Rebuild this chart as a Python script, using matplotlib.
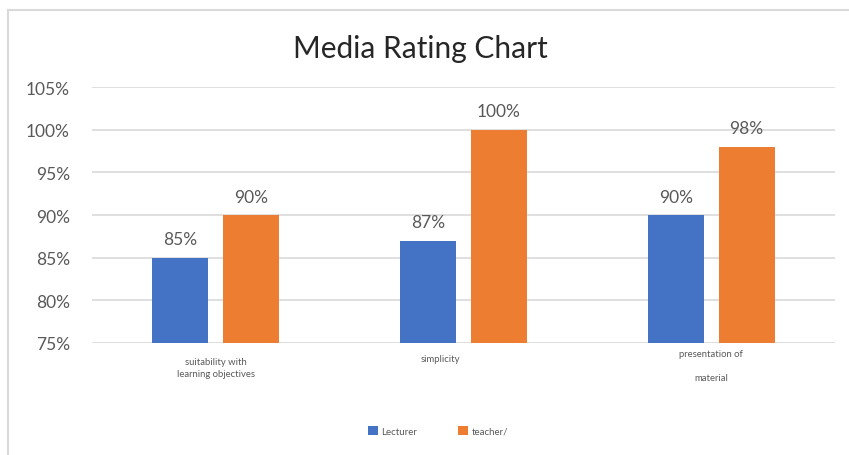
import matplotlib
matplotlib.use("Agg")
import matplotlib.pyplot as plt
import matplotlib.transforms as mtransforms
from matplotlib.lines import Line2D
import numpy as np

plt.rcParams['font.family'] = ['Lato', 'DejaVu Sans']

categories = ["suitability with\nlearning objectives", "simplicity", "presentation of\nmaterial"]
lecturer = [85, 87, 90]
teacher = [90, 100, 98]
series_names = ["Lecturer", "teacher/"]
yticks = [75, 80, 85, 90, 95, 100, 105]

BLUE = "#4472C4"
ORANGE = "#ED7D31"
GRID = "#D9D9D9"
TEXT = "#595959"

fig = plt.figure(figsize=(8.49, 4.56), dpi=100)
W, H = 849, 456
ax = fig.add_axes([92 / W, 1 - 344 / H, (835 - 92) / W, (344 - 88) / H])

x = np.arange(len(categories))
width = 0.226
offset = 0.143
b1 = ax.bar(x - offset, lecturer, width, color=BLUE, label=series_names[0], zorder=3)
b2 = ax.bar(x + offset, teacher, width, color=ORANGE, label=series_names[1], zorder=3)

for bars, vals in ((b1, lecturer), (b2, teacher)):
    for rect, v in zip(bars, vals):
        ax.annotate(f"{v}%", (rect.get_x() + rect.get_width() / 2, v),
                    xytext=(0, 7.5), textcoords="offset points",
                    ha="center", va="bottom", fontsize=12.5, color=TEXT)

ax.set_xlim(-0.5, len(categories) - 0.5)
ax.set_ylim(75, 105)
ax.set_yticks(yticks)
ax.set_yticklabels([f"{t}%" for t in yticks], fontsize=12.5, color=TEXT)
ax.yaxis.grid(True, color=GRID, linewidth=1.2, zorder=0)
ax.tick_params(axis="y", length=0, pad=16)
ax.tick_params(axis="x", length=0, pad=10)
for s in ax.spines.values():
    s.set_visible(False)

ax.set_xticks(x)
labels = ax.set_xticklabels(categories, fontsize=6.8, color=TEXT)
labels[0].set_linespacing(1.45)
labels[2].set_linespacing(3.2)
labels[1].set_transform(labels[1].get_transform() +
                        mtransforms.ScaledTranslation(-0.23, 0.03, fig.dpi_scale_trans))
labels[2].set_transform(labels[2].get_transform() +
                        mtransforms.ScaledTranslation(0.0, 0.08, fig.dpi_scale_trans))

fig.text(420 / W, 1 - 49 / H, "Media Rating Chart", ha="center", va="center",
         fontsize=21.5, color="#262626")

leg = fig.legend(handles=[b1, b2], labels=series_names, loc="center",
                 bbox_to_anchor=(438 / W, 1 - 432 / H), ncol=2, frameon=False,
                 fontsize=7, handlelength=1.0, handleheight=1.0,
                 handletextpad=0.4, columnspacing=4.2)
for t in leg.get_texts():
    t.set_color(TEXT)

# chart frame edges
fig.add_artist(Line2D([8 / W, 1], [1 - 11 / H, 1 - 11 / H], transform=fig.transFigure,
                      color=GRID, linewidth=1.5))
fig.add_artist(Line2D([8 / W, 8 / W], [0, 1 - 11 / H], transform=fig.transFigure,
                      color=GRID, linewidth=1.5))

fig.savefig("out.png", dpi=100)
